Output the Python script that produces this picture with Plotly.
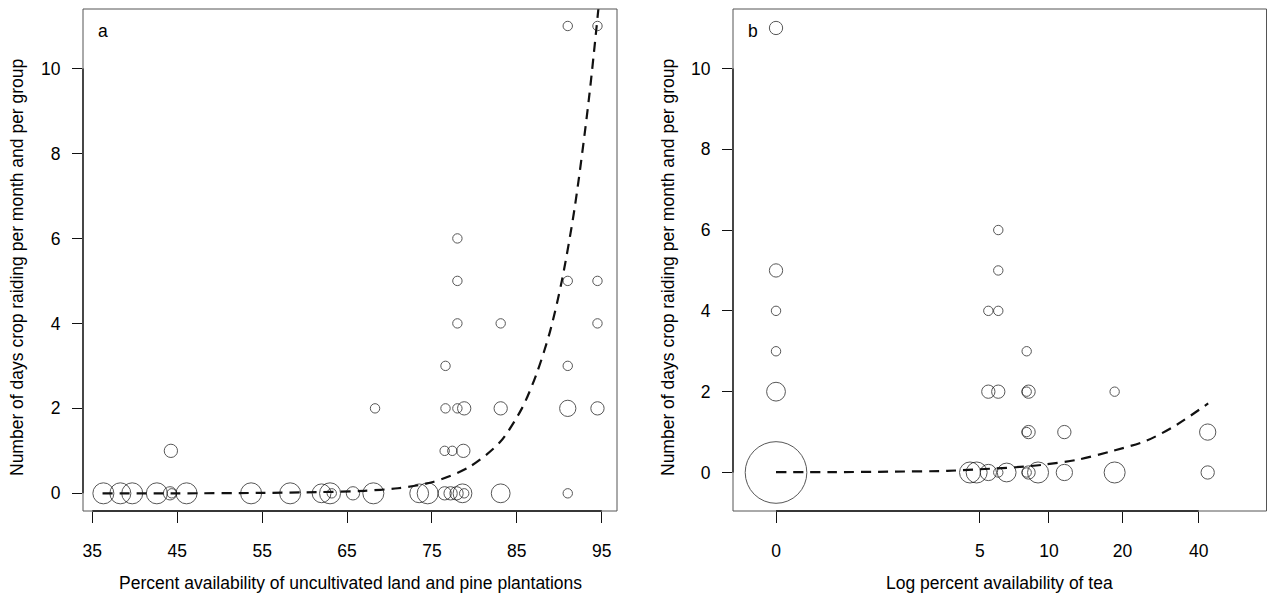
import numpy as np
import plotly.graph_objects as go

# ---------------- Panel a: percent uncultivated land / pine vs crop raiding days
a_pct = [36.3, 38.3, 39.7, 42.6, 44.15, 44.35, 46.1, 53.7, 58.3, 62.0, 63.0, 63.2, 65.7, 68.1,
         73.5, 74.5, 76.5, 77.2, 77.9, 78.6, 78.8, 83.1, 91.0,
         44.25, 76.5, 77.4, 78.7,
         68.3, 76.6, 78.0, 78.8, 83.1, 91.0, 94.5,
         76.6, 91.0,
         78.0, 83.1, 94.5,
         78.0, 91.0, 94.5,
         78.0,
         91.0, 94.5]
a_days = [0, 0, 0, 0, 0, 0, 0, 0, 0, 0, 0, 0, 0, 0,
          0, 0, 0, 0, 0, 0, 0, 0, 0,
          1, 1, 1, 1,
          2, 2, 2, 2, 2, 2, 2,
          3, 3,
          4, 4, 4,
          5, 5, 5,
          6,
          11, 11]
a_count = [5, 5, 5, 5, 2, 1, 5, 5, 5, 4, 5, 1, 2, 5,
           4, 5, 2, 2, 2, 4, 1, 4, 1,
           2, 1, 1, 2,
           1, 1, 1, 2, 2, 3, 2,
           1, 1,
           1, 1, 1,
           1, 1, 1,
           1,
           1, 1]
# fitted curve
a_fit_pct = [36.2, 45, 55, 62, 67, 71, 75, 79.4, 83.0, 85.6, 87.3, 88.9, 90.3, 91.8, 93.5, 95.5]
a_fit_days = [0.0, 0.0, 0.01, 0.03, 0.06, 0.12, 0.26, 0.62, 1.2, 2.0, 2.8, 3.8, 5.0, 6.7, 9.3, 13.2]
a_xticks = [35, 45, 55, 65, 75, 85, 95]

# ---------------- Panel b: tea availability vs crop raiding days
b_tea = [0, 0, 0, 0, 0, 0,
         6.05, 6.05, 5.46, 6.05, 8.05,
         5.46, 6.05, 8.05, 8.2, 18.6,
         8.05, 8.2, 11.6, 43.4,
         4.5, 4.83, 5.46, 6.05, 6.59, 8.05, 8.2, 9.0, 11.6, 18.6, 43.4]
b_days = [0, 2, 3, 4, 5, 11,
          6, 5, 4, 4, 3,
          2, 2, 2, 2, 2,
          1, 1, 1, 1,
          0, 0, 0, 0, 0, 0, 0, 0, 0, 0, 0]
b_count = [43, 4, 1, 1, 2, 2,
           1, 1, 1, 1, 1,
           2, 2, 1, 2, 1,
           1, 2, 2, 3,
           5, 5, 3, 1, 4, 1, 2, 5, 3, 5, 2]
b_fit_tea = [0, 0.65, 1.7, 3.5, 5.0, 7.2, 9.4, 13.0, 18.4, 25.0, 32.8, 43.6]
b_fit_days = [0.01, 0.01, 0.02, 0.04, 0.08, 0.13, 0.19, 0.31, 0.54, 0.79, 1.18, 1.71]
b_xticks = [0, 5, 10, 20, 40]

y_ticks = [0, 2, 4, 6, 8, 10]

W, H = 1269, 593
FONT = "Liberation Sans, Arial, Helvetica, sans-serif"
FS = 17.5


def logp1(v):
    return np.log(np.asarray(v, dtype=float) + 1.0)


def sizes(counts):
    return [9.4 * np.sqrt(c) for c in counts]


circle = dict(symbol="circle", color="rgba(0,0,0,0)", line=dict(color="#111", width=1))
dash = dict(color="#111", width=2.2, dash="10px,7px", shape="spline", smoothing=0.8)

fig = go.Figure()
fig.add_trace(go.Scatter(x=a_pct, y=a_days, mode="markers",
                         marker=dict(size=sizes(a_count), **circle),
                         xaxis="x", yaxis="y", showlegend=False, hoverinfo="skip"))
fig.add_trace(go.Scatter(x=a_fit_pct, y=a_fit_days, mode="lines", line=dash,
                         xaxis="x", yaxis="y", showlegend=False, hoverinfo="skip"))
fig.add_trace(go.Scatter(x=logp1(b_tea), y=b_days, mode="markers",
                         marker=dict(size=sizes(b_count), **circle),
                         xaxis="x2", yaxis="y2", showlegend=False, hoverinfo="skip"))
fig.add_trace(go.Scatter(x=logp1(b_fit_tea), y=b_fit_days, mode="lines", line=dash,
                         xaxis="x2", yaxis="y2", showlegend=False, hoverinfo="skip"))

ax_common = dict(showgrid=False, zeroline=False, showline=False, ticks="outside",
                 tickcolor="#111", tickwidth=1, tickfont=dict(family=FONT, size=FS, color="black"))
ydom = [(H - 511) / H, (H - 9) / H]

fig.update_layout(
    width=W, height=H, margin=dict(l=0, r=0, t=0, b=0),
    paper_bgcolor="white", plot_bgcolor="white",
    font=dict(family=FONT, size=FS, color="black"),
    xaxis=dict(domain=[83 / W, 617 / W], range=[33.9, 96.8], tickvals=a_xticks,
               ticklen=11, ticklabelstandoff=13, anchor="y", **ax_common),
    yaxis=dict(domain=ydom, range=[-0.416, 11.40], tickvals=y_ticks,
               ticklen=10, ticklabelstandoff=8, anchor="x", **ax_common),
    xaxis2=dict(domain=[733 / W, 1266.5 / W], range=[-0.378, 4.31],
                tickvals=list(logp1(b_xticks)), ticktext=[str(t) for t in b_xticks],
                ticklen=11, ticklabelstandoff=13, anchor="y2", **ax_common),
    yaxis2=dict(domain=ydom, range=[-0.953, 11.47], tickvals=y_ticks,
                ticklen=10, ticklabelstandoff=8, anchor="x2", **ax_common),
)

shapes = []
for xr, yr in (("x", "y"), ("x2", "y2")):
    shapes.append(dict(type="rect", xref=xr + " domain", yref=yr + " domain",
                       x0=0, x1=1, y0=0, y1=1, line=dict(color="#555", width=1)))
# axis lines between first and last ticks
shapes.append(dict(type="line", xref="x", yref="y domain", x0=a_xticks[0], x1=a_xticks[-1],
                   y0=0, y1=0, line=dict(color="#111", width=1.3)))
shapes.append(dict(type="line", xref="x2", yref="y2 domain", x0=float(logp1(b_xticks[0])),
                   x1=float(logp1(b_xticks[-1])), y0=0, y1=0, line=dict(color="#111", width=1.3)))
shapes.append(dict(type="line", xref="x domain", yref="y", x0=0, x1=0, y0=y_ticks[0],
                   y1=y_ticks[-1], line=dict(color="#111", width=1.3)))
shapes.append(dict(type="line", xref="x2 domain", yref="y2", x0=0, x1=0, y0=y_ticks[0],
                   y1=y_ticks[-1], line=dict(color="#111", width=1.3)))
fig.update_layout(shapes=shapes)

ytitle = "Number of days crop raiding per month and per group"
ann = [
    dict(text="Percent availability of uncultivated land and pine plantations",
         x=350 / W, y=1 - 583 / H),
    dict(text="Log percent availability of tea", x=999.5 / W, y=1 - 583 / H),
    dict(text=ytitle, x=17 / W, y=1 - 268 / H, textangle=-90),
    dict(text=ytitle, x=668 / W, y=1 - 268 / H, textangle=-90),
    dict(text="a", x=103 / W, y=1 - 31 / H),
    dict(text="b", x=753 / W, y=1 - 31 / H),
]
for a in ann:
    a.update(xref="paper", yref="paper", xanchor="center", yanchor="middle",
             showarrow=False, font=dict(family=FONT, size=FS, color="black"))
fig.update_layout(annotations=ann)

fig.write_html("out.html", config={"displayModeBar": False},
               post_script="document.body.style.margin='0px';")
